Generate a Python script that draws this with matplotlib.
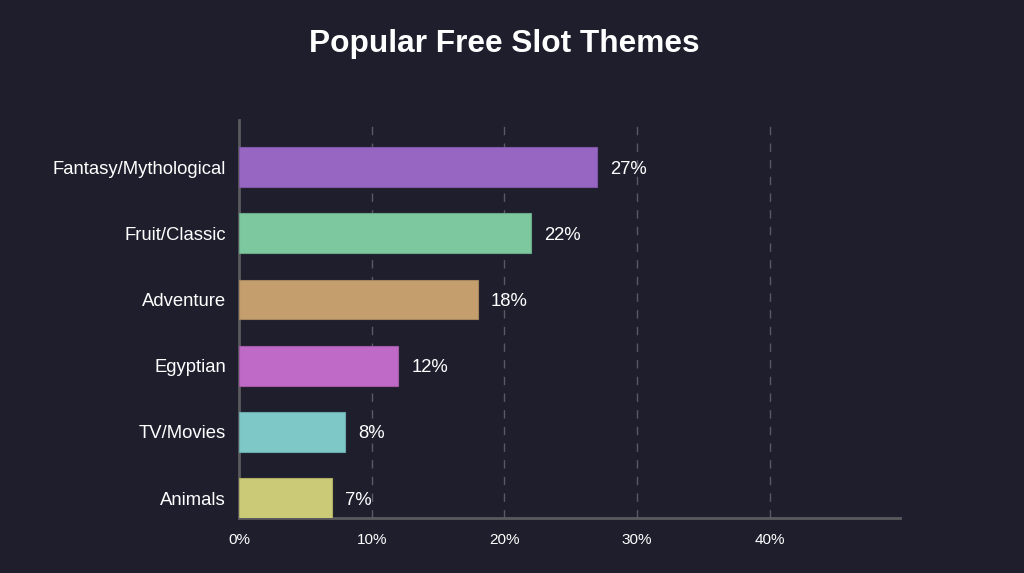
import matplotlib
matplotlib.use("Agg")
import matplotlib.pyplot as plt
import matplotlib.colors as mcolors

categories = ["Fantasy/Mythological", "Fruit/Classic", "Adventure", "Egyptian", "TV/Movies", "Animals"]
values = [27, 22, 18, 12, 8, 7]
colors = ["#9766C3", "#7EC8A0", "#C49E6D", "#BE6AC6", "#7EC8C8", "#CBCB77"]
xticks = [0, 10, 20, 30, 40]
xtick_labels = ["0%", "10%", "20%", "30%", "40%"]
title = "Popular Free Slot Themes"

bg = "#1F1E2D"
plt.rcParams['font.family'] = ['Liberation Sans', 'DejaVu Sans']

fig = plt.figure(figsize=(10.24, 5.73), dpi=100, facecolor=bg)
ax = fig.add_axes([239/1024, 1-518/573, (900-239)/1024, (518-120)/573], facecolor=bg)

ypos = list(range(len(categories)))
edge = [tuple(c*0.85 for c in mcolors.to_rgb(col)) for col in colors]
ax.barh(ypos, values, height=0.6, color=colors, edgecolor=edge, linewidth=0.8, zorder=3)
ax.set_ylim(5.3, -0.71)
ax.set_xlim(0, 49.8)

for y, v in zip(ypos, values):
    ax.annotate(f"{v}%", (v, y), xytext=(13, -2), textcoords="offset pixels",
                va="center", ha="left", color="white", fontsize=13.3, zorder=4)

ax.set_yticks(ypos)
ax.set_yticklabels(categories, color="white", fontsize=13.3)
ax.set_xticks(xticks)
ax.set_xticklabels(xtick_labels, color="white", fontsize=11)
ax.tick_params(axis="both", length=0)
ax.tick_params(axis="y", pad=9.5)
ax.tick_params(axis="x", pad=11)

for x in xticks[1:]:
    ax.axvline(x, color="#5a5a66", linestyle=(0, (6, 6)), linewidth=1, zorder=1)

for s in ["top", "right"]:
    ax.spines[s].set_visible(False)
ax.spines["left"].set_color("#5a5a5e")
ax.spines["left"].set_linewidth(2)
ax.spines["bottom"].set_color("#5a5a5e")
ax.spines["bottom"].set_linewidth(2)

fig.text(504/1024, 1-44/573, title, ha="center", va="center", color="white",
         fontsize=22.8, fontweight="bold")

fig.savefig("out.png", dpi=100, facecolor=bg)
